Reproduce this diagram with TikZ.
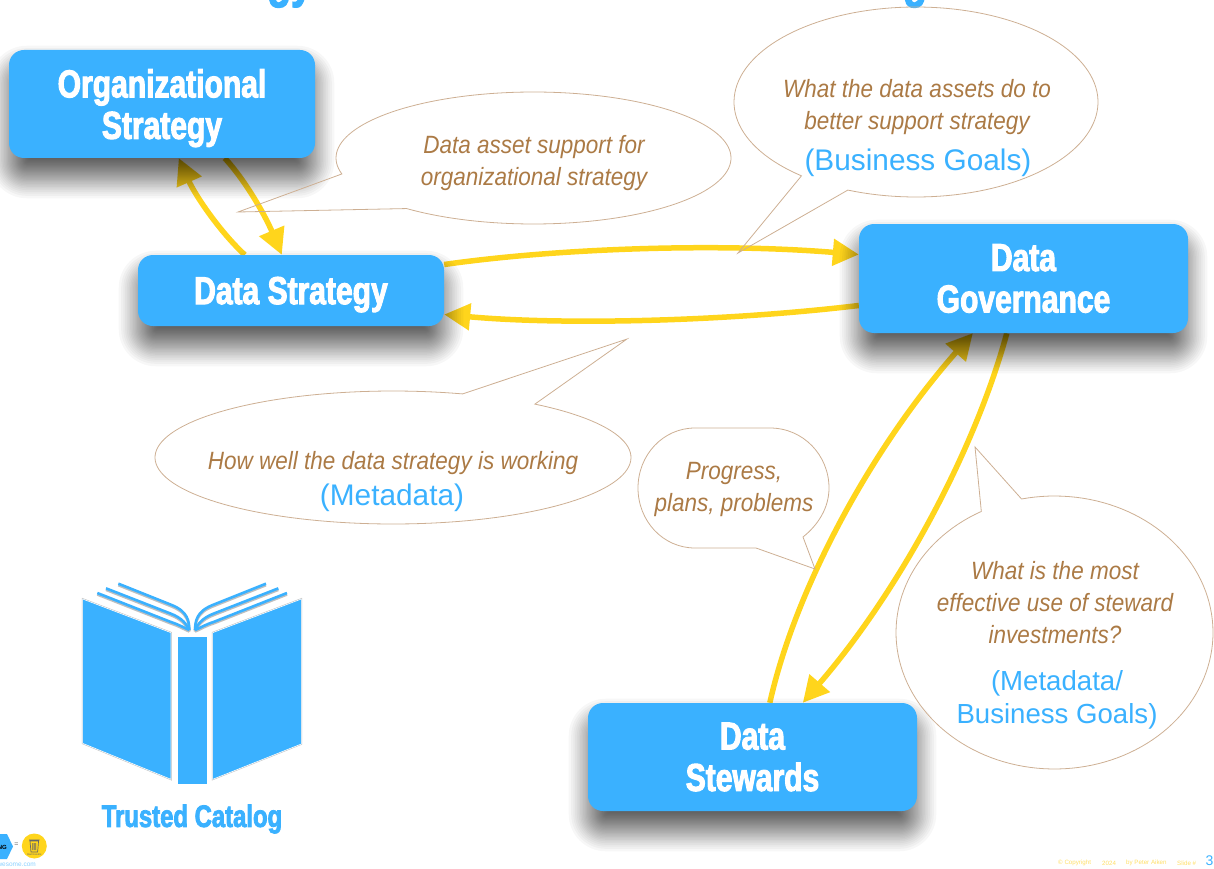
\documentclass[tikz,border=0pt]{standalone}
\usepackage{fontspec}
\usetikzlibrary{arrows.meta,calc}
\setmainfont{Liberation Sans}
\newfontfamily\heavy[UprightFont=* Bold,FakeStretch=.77,FakeBold=2.5]{Liberation Sans}
\newfontfamily\narrowit[UprightFont=* Italic,FakeStretch=.9]{Liberation Sans}
\definecolor{boxblue}{HTML}{3AB1FF}
\definecolor{arrowy}{HTML}{FFD51C}
\definecolor{tanline}{HTML}{CDAF93}
\definecolor{tantext}{HTML}{AB7A45}
\definecolor{foot}{HTML}{FFDF66}
\pgfdeclarelayer{back}\pgfdeclarelayer{mid}\pgfsetlayers{back,mid,main}
\tikzset{
  bluebox/.style={fill=boxblue,rounded corners=15pt,inner sep=0pt,text=white,align=center,
    font=\heavy\fontsize{39}{41.5}\selectfont},
  flow/.style={draw=arrowy,line width=5.5pt,-{Triangle[length=26pt,width=26pt]}},
  callout/.style={draw=tanline,line width=.8pt,line join=miter},
  tantxt/.style={text=tantext,align=center,inner sep=0pt,font=\narrowit\fontsize{25}{32}\selectfont},
  bluetxt/.style={text=boxblue,align=center,inner sep=0pt,font=\fontsize{29.8}{33}\selectfont},
  bluetxtsm/.style={text=boxblue,align=center,inner sep=0pt,font=\fontsize{27.6}{33}\selectfont},
  pageline/.style={draw=boxblue,line width=2.6pt},
  pageshade/.style={draw=black!25,line width=2.6pt},
  cover/.style={fill=boxblue,draw=white,line width=.6pt},
  covershade/.style={fill=black!35,draw=black!25,line width=1.6pt},
  footnote/.style={anchor=west,inner sep=0pt,text=foot,font=\fontsize{6.2}{7}\selectfont}
}
\newcommand{\softshadow}[1]{%
  \begin{pgfonlayer}{mid}
  \foreach \u in {1,...,40}{%
    \pgfmathsetmacro{\d}{26*(1-2*(\u/40)^0.7)}
    \pgfmathsetmacro{\rr}{max(2,15+\d)}
    \fill[black,opacity=.03,rounded corners=\rr pt]
      ([shift={({3pt-\d pt},{-18pt-\d pt})}]#1.south west) rectangle ([shift={({\d pt-3pt},{-18pt+\d pt})}]#1.north east);
  }
  \end{pgfonlayer}}
\newcommand{\nodesc}[1]{\raisebox{0pt}[\height][0pt]{#1}}
\begin{document}
\begin{tikzpicture}[x=1pt,y=-1pt]
\useasboundingbox (0,0) rectangle (1214,869);
\clip (0,0) rectangle (1214,869);
% title fragments
\node[anchor=base,text=boxblue,inner sep=0pt,font=\heavy\fontsize{50}{50}\selectfont] (tl) at (290,-3) {gy};
\node[anchor=base,text=boxblue,inner sep=0pt,font=\heavy\fontsize{50}{50}\selectfont] (tr) at (915,-3) {g};
% boxes
\node[bluebox,minimum width=306pt,minimum height=108pt] (org) at (162,104) {Organizational\\\nodesc{Strategy}};
\node[bluebox,minimum width=306pt,minimum height=71pt] (ds) at (291,290.5) {\nodesc{Data Strategy}};
\node[bluebox,minimum width=329pt,minimum height=109pt] (gov) at (1023.5,278.5) {Data\\Governance};
\node[bluebox,minimum width=329pt,minimum height=108pt] (stw) at (752.5,757) {Data\\Stewards};
\softshadow{org}\softshadow{ds}\softshadow{gov}\softshadow{stw}
% connectors
\begin{pgfonlayer}{back}
\draw[flow] ([xshift=216pt]org.south west) .. controls (245,180) and (265,215) .. ([xshift=144pt]ds.north west);
\draw[flow] ([xshift=107pt]ds.north west) .. controls (220,232) and (195,195) .. ([xshift=170pt]org.south west);
\draw[flow] ([yshift=26pt]ds.east) .. controls (560,248) and (720,243) .. ([yshift=24pt]gov.west);
\draw[flow] ([yshift=-27pt]gov.west) .. controls (720,322) and (560,325) .. ([yshift=-24pt]ds.east);
\draw[flow] ([xshift=182pt]stw.north west) .. controls (795,590) and (870,450) .. ([xshift=114pt]gov.south west);
\draw[flow] ([xshift=148pt]gov.south west) .. controls (975,450) and (900,590) .. ([xshift=215pt]stw.north west);
\end{pgfonlayer}
% callouts
\draw[callout] plot[domain=166:490,samples=140] ({533.5+197.5*cos(\x)},{158+66*sin(\x)}) -- (238,212) -- cycle;
\draw[callout] plot[domain=129:472,samples=140] ({916+182*cos(\x)},{102+95*sin(\x)}) -- (738,253) -- cycle;
\draw[callout] plot[domain=-53.4:287,samples=140] ({393+238*cos(\x)},{457.5+66.5*sin(\x)}) -- (627,339) -- cycle;
\draw[callout] plot[domain=-102:242.5,samples=140] ({1054.5+158.5*cos(\x)},{632.5+136.5*sin(\x)}) -- (975,447) -- cycle;
\draw[callout] (756,548) -- (695,548) .. controls (663,548) and (638,521) .. (638,488)
  .. controls (638,455) and (663,428) .. (695,428) -- (770,428)
  .. controls (803,428) and (829,455) .. (829,488) .. controls (829,508) and (818,525) .. (803,537)
  -- (815,569) -- cycle;
% callout text
\node[tantxt] (t1) at (534,163) {Data asset support for\\organizational strategy};
\node[tantxt] (t2) at (917,107) {What the data assets do to\\better support strategy};
\node[bluetxt] (b2) at (918,163) {(Business Goals)};
\node[tantxt] (t3) at (393,463) {How well the data strategy is working};
\node[bluetxt] (b3) at (392,498) {(Metadata)};
\node[tantxt] (t4) at (734,489) {Progress,\\plans, problems};
\node[tantxt] (t5) at (1055,603) {What is the most\\effective use of steward\\investments?};
\node[bluetxtsm] (b5) at (1057,700) {(Metadata/\\Business Goals)};
% book
\begin{scope}[shift={(60,570)},x=.33333pt,y=-.33333pt]
\foreach \m/\o in {1/0,-1/793}{
\begin{scope}[shift={(\o*.33333pt,0)},xscale=\m]
\draw[pageshade,yshift=-1.5pt] (175,41) -- (335,105) .. controls (385,125) and (387,155) .. (388,180);
\draw[pageshade,yshift=-1.5pt] (138,55) -- (330,130) .. controls (370,145) and (380,165) .. (388,180);
\draw[pageshade,yshift=-1.5pt] (112,69) -- (330,155) .. controls (360,165) and (375,175) .. (388,180);
\draw[pageline] (175,41) -- (335,105) .. controls (385,125) and (387,155) .. (388,180);
\draw[pageline] (138,55) -- (330,130) .. controls (370,145) and (380,165) .. (388,180);
\draw[pageline] (112,69) -- (330,155) .. controls (360,165) and (375,175) .. (388,180);
\end{scope}}
\fill[covershade] (68,87) -- (333,188) -- (333,628) -- (68,520) -- cycle;
\fill[covershade] (352,200) rectangle (441,643);
\fill[covershade] (458,188) -- (724,87) -- (724,522) -- (458,628) -- cycle;
\filldraw[cover] (68,87) -- (333,188) -- (333,628) -- (68,520) -- cycle;
\filldraw[cover] (352,200) rectangle (441,643);
\filldraw[cover] (458,188) -- (724,87) -- (724,522) -- (458,628) -- cycle;
\end{scope}
\node[text=boxblue,inner sep=0pt,font=\heavy\fontsize{31}{31}\selectfont] (cat) at (192,819) {Trusted Catalog};
% bottom-left badge
\fill[boxblue] (-8,834) -- (7,834) -- (13,846.5) -- (7,859) -- (-8,859) -- cycle;
\node[anchor=east,inner sep=0pt,font=\bfseries\fontsize{6}{6}\selectfont] (hx) at (7,847.5) {NG};
\node[inner sep=0pt,text=black!60,font=\fontsize{7}{7}\selectfont] (eq) at (16.5,845) {=};
\fill[arrowy] (34.3,846) circle (12.5);
\draw[black!60,line width=.7pt] (30,841) -- (31,852) -- (37.6,852) -- (38.6,841) -- cycle (29,840) -- (39.6,840) (32.8,843) -- (32.8,850) (34.3,843) -- (34.3,850) (35.8,843) -- (35.8,850);
\node[inner sep=0pt,text=black!60,font=\fontsize{2.6}{3}\selectfont] (bad) at (34.3,854.5) {Bad Results};
\node[anchor=east,inner sep=0pt,text=boxblue!60,font=\fontsize{6.5}{7}\selectfont] (web) at (36,864.5) {wesome.com};
% footer
\node[footnote] (f1) at (1058,863) {© Copyright};
\node[footnote] (f2) at (1102,863) {2024};
\node[footnote] (f3) at (1126,863) {by Peter Aiken};
\node[footnote] (f4) at (1177,863) {Slide \#};
\node[anchor=west,inner sep=0pt,text=boxblue,font=\fontsize{14}{15}\selectfont] (f5) at (1205.5,861) {35};
\end{tikzpicture}
\end{document}
